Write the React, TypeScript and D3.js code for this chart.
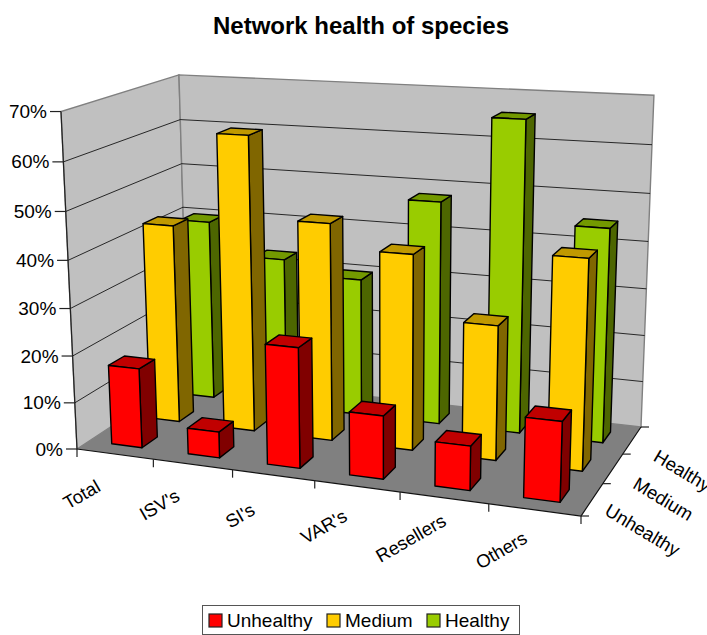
import React from 'react';
import * as d3 from 'd3';

const categories = ['Total', "ISV's", "SI's", "VAR's", 'Resellers', 'Others'];
const seriesNames = ['Unhealthy', 'Medium', 'Healthy'];
const unhealthy = [17, 5.5, 25, 13, 9, 16];
const medium = [43, 63, 46, 41, 28, 43];
const healthy = [40, 33, 30, 48, 66, 45];
const seriesValues = [unhealthy, medium, healthy];
const valueTicks = [0, 10, 20, 30, 40, 50, 60, 70];

const faceColors = [
  { front: '#ff0000', side: '#800000', top: '#c00000' },
  { front: '#ffcc00', side: '#806600', top: '#c09900' },
  { front: '#99cc00', side: '#4d6600', top: '#739900' },
];

type Pt = [number, number];

// corners of the box as seen on screen
const floorFL: Pt = [77, 449];
const floorFR: Pt = [581, 516];
const floorBR: Pt = [641, 427];
const floorBL: Pt = [188, 376];
const topFL: Pt = [62, 111];
const topBL: Pt = [178, 72];
const topBR: Pt = [654, 99];

// unit square -> floor quad
function floorHomography(p0: Pt, p1: Pt, p2: Pt, p3: Pt) {
  const dx1 = p1[0] - p2[0];
  const dx2 = p3[0] - p2[0];
  const sx = p0[0] - p1[0] + p2[0] - p3[0];
  const dy1 = p1[1] - p2[1];
  const dy2 = p3[1] - p2[1];
  const sy = p0[1] - p1[1] + p2[1] - p3[1];
  const det = dx1 * dy2 - dx2 * dy1;
  const g = (sx * dy2 - dx2 * sy) / det;
  const h = (dx1 * sy - sx * dy1) / det;
  return [
    p1[0] - p0[0] + g * p1[0], p3[0] - p0[0] + h * p3[0], p0[0],
    p1[1] - p0[1] + g * p1[1], p3[1] - p0[1] + h * p3[1], p0[1],
    g, h, 1,
  ];
}
const H = floorHomography(floorFL, floorFR, floorBR, floorBL);

function floorXYW(u: number, z: number) {
  return [
    H[0] * u + H[1] * z + H[2],
    H[3] * u + H[4] * z + H[5],
    H[6] * u + H[7] * z + H[8],
  ];
}

// height column of the projection, fitted to the three top corners
function fitHeight() {
  const samples: [number, number, Pt][] = [
    [0, 0, topFL],
    [0, 1, topBL],
    [1, 1, topBR],
  ];
  const A: number[][] = [];
  const b: number[] = [];
  samples.forEach(([u, z, p]) => {
    const [X, Y, W] = floorXYW(u, z);
    A.push([1, 0, -p[0]]);
    b.push(p[0] * W - X);
    A.push([0, 1, -p[1]]);
    b.push(p[1] * W - Y);
  });
  const N = [0, 1, 2].map((i) =>
    [0, 1, 2].map((j) => d3.sum(A, (r) => r[i] * r[j]))
  );
  const v = [0, 1, 2].map((i) => d3.sum(A, (r, k) => r[i] * b[k]));
  for (let i = 0; i < 3; i++) {
    for (let k = i + 1; k < 3; k++) {
      const f = N[k][i] / N[i][i];
      for (let j = i; j < 3; j++) N[k][j] -= f * N[i][j];
      v[k] -= f * v[i];
    }
  }
  const out = [0, 0, 0];
  for (let i = 2; i >= 0; i--) {
    let s = v[i];
    for (let j = i + 1; j < 3; j++) s -= N[i][j] * out[j];
    out[i] = s / N[i][i];
  }
  return out;
}
const V = fitHeight();

function project(u: number, z: number, y: number): Pt {
  const [X, Y, W] = floorXYW(u, z);
  const w = W + y * V[2];
  return [(X + y * V[0]) / w, (Y + y * V[1]) / w];
}

const xBand = d3.scaleBand().domain(categories).range([0, 1]);
const zBand = d3.scaleBand().domain(seriesNames).range([0, 1]);
const yScale = d3.scaleLinear().domain([0, 70]).range([0, 1]);
const barFraction = 0.4;

const poly = (pts: Pt[]) => d3.line()(pts) + 'Z';

function Bar({ cat, series, value }: { cat: number; series: number; value: number }) {
  const cw = xBand.bandwidth();
  const zw = zBand.bandwidth();
  const u0 = xBand(categories[cat])! + (cw * (1 - barFraction)) / 2;
  const u1 = u0 + cw * barFraction;
  const z0 = zBand(seriesNames[series])! + (zw * (1 - barFraction)) / 2;
  const z1 = z0 + zw * barFraction;
  const y = yScale(value);
  const c = faceColors[series];
  const stroke = { stroke: '#000', strokeWidth: 1.4, strokeLinejoin: 'round' as const };
  return (
    <g>
      <path
        d={poly([project(u1, z0, 0), project(u1, z1, 0), project(u1, z1, y), project(u1, z0, y)])}
        fill={c.side}
        {...stroke}
      />
      <path
        d={poly([project(u0, z0, y), project(u1, z0, y), project(u1, z1, y), project(u0, z1, y)])}
        fill={c.top}
        {...stroke}
      />
      <path
        d={poly([project(u0, z0, 0), project(u1, z0, 0), project(u1, z0, y), project(u0, z0, y)])}
        fill={c.front}
        {...stroke}
      />
    </g>
  );
}

const labelFont = '"Liberation Sans", Arial, sans-serif';

export default function App() {
  const tickLen = 0.028;
  return (
    <svg
      width={707}
      height={635}
      style={{ position: 'absolute', left: 0, top: 0, display: 'block' }}
      fontFamily={labelFont}
    >
      <text x={361} y={34} textAnchor="middle" fontSize={24} fontWeight="bold" fill="#000">
        Network health of species
      </text>

      {/* walls and floor */}
      <path
        d={poly([project(0, 0, 0), project(0, 1, 0), project(0, 1, 1), project(0, 0, 1)])}
        fill="#c0c0c0"
        stroke="#808080"
        strokeWidth={1.4}
      />
      <path
        d={poly([project(0, 1, 0), project(1, 1, 0), project(1, 1, 1), project(0, 1, 1)])}
        fill="#c0c0c0"
        stroke="#808080"
        strokeWidth={1.4}
      />
      <path
        d={poly([project(0, 0, 0), project(1, 0, 0), project(1, 1, 0), project(0, 1, 0)])}
        fill="#808080"
      />

      {/* gridlines */}
      {valueTicks.slice(1, -1).map((t) => (
        <path
          key={t}
          d={d3.line()([project(0, 0, yScale(t)), project(0, 1, yScale(t)), project(1, 1, yScale(t))])!}
          fill="none"
          stroke="#000"
          strokeWidth={1}
          opacity={0.8}
        />
      ))}

      {/* box edges on the axes */}
      <path d={d3.line()([project(0, 0, 0), project(0, 0, 1)])!} stroke="#222" strokeWidth={1.2} fill="none" />
      <path d={d3.line()([project(0, 0, 0), project(1, 0, 0), project(1, 1, 0)])!} stroke="#111" strokeWidth={1.2} fill="none" />

      {/* value axis */}
      {valueTicks.map((t) => {
        const [px, py] = project(0, 0, yScale(t));
        return (
          <g key={t}>
            <line x1={px - 11} x2={px} y1={py} y2={py} stroke="#222" strokeWidth={1.2} />
            <text x={px - 14} y={py + 6.5} textAnchor="end" fontSize={19} fill="#000">
              {t}%
            </text>
          </g>
        );
      })}

      {/* category ticks and labels */}
      {d3.range(categories.length + 1).map((i) => {
        const u = i / categories.length;
        const [px, py] = project(u, 0, 0);
        return <line key={i} x1={px} x2={px} y1={py} y2={py + 8} stroke="#222" strokeWidth={1.2} />;
      })}
      {categories.map((c) => {
        const u = xBand(c)! + xBand.bandwidth() / 2;
        const [px, py] = project(u, 0, 0);
        return (
          <text
            key={c}
            transform={`translate(${px - 30},${py + 46}) rotate(-30)`}
            textAnchor="middle"
            fontSize={18.5}
            fill="#000"
          >
            {c}
          </text>
        );
      })}

      {/* series ticks and labels */}
      {d3.range(seriesNames.length + 1).map((i) => {
        const z = i / seriesNames.length;
        const [px, py] = project(1, z, 0);
        return <line key={i} x1={px} x2={px + 8} y1={py} y2={py} stroke="#222" strokeWidth={1.2} />;
      })}
      {seriesNames.map((s) => {
        const z = zBand(s)! + zBand.bandwidth() / 2;
        const [px, py] = project(1, z, tickLen * 0);
        return (
          <text
            key={s}
            transform={`translate(${px + 47},${py + 36}) rotate(31)`}
            textAnchor="middle"
            fontSize={18.5}
            fill="#000"
          >
            {s}
          </text>
        );
      })}

      {/* bars, back row first */}
      {[2, 1, 0].map((s) =>
        categories.map((c, i) => (
          <Bar key={c + s} cat={i} series={s} value={seriesValues[s][i]} />
        ))
      )}

      {/* legend */}
      <rect x={202.5} y={605.5} width={317} height={29} fill="#fff" stroke="#555" strokeWidth={1} />
      {seriesNames.map((s, i) => {
        const legendX = [209, 327, 427];
        return (
          <g key={s}>
            <rect x={legendX[i]} y={614} width={13} height={13} fill={faceColors[i].front} stroke="#222" strokeWidth={1.2} />
            <text x={legendX[i] + 18} y={627} fontSize={19} fill="#000">
              {s}
            </text>
          </g>
        );
      })}
    </svg>
  );
}
